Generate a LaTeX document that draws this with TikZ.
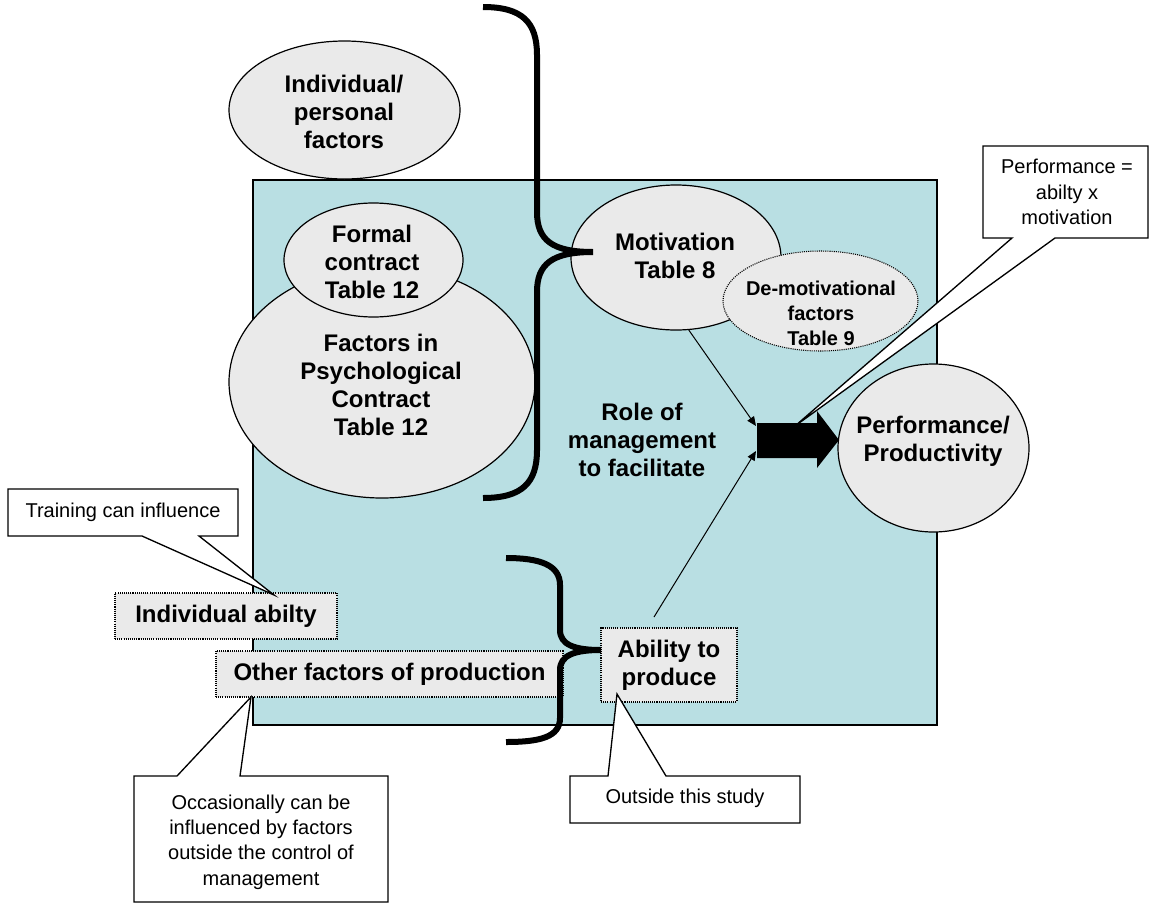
\documentclass[tikz,border=0pt]{standalone}
\usepackage{fontspec}
\setmainfont{Liberation Sans}
\usetikzlibrary{arrows.meta,shapes.geometric,calc}
\definecolor{bluebg}{RGB}{185,223,227}
\definecolor{ellgray}{RGB}{234,234,234}
\begin{document}
\begin{tikzpicture}[x=0.75pt,y=-0.75pt,
  ellbox/.style={ellipse, draw=black, line width=0.9pt, fill=ellgray, inner sep=0pt},
  dotell/.style={ellipse, draw=black, line width=0.8pt, dash pattern=on 0.8pt off 0.8pt, fill=ellgray, inner sep=0pt},
  btxt/.style={font=\bfseries\fontsize{18}{21}\selectfont, align=center, inner sep=0pt},
  stxt/.style={font=\bfseries\fontsize{15}{18.75}\selectfont, align=center, inner sep=0pt},
  ctxt/.style={font=\fontsize{15}{19}\selectfont, align=center, inner sep=0pt},
  dotbox/.style={draw=black, line width=0.8pt, dash pattern=on 0.8pt off 0.8pt, fill=ellgray, inner sep=0pt, font=\bfseries\fontsize{18}{21}\selectfont, align=center},
  calloutpath/.style={draw=black, line width=1pt, fill=white, line join=miter},
  bracepath/.style={line width=4.5pt},
  thinarrow/.style={line width=0.75pt, -{Triangle[length=7pt,width=6pt]}}
]
\useasboundingbox (0,0) rectangle (1149,903);

% background region
\draw[fill=bluebg, line width=1.1pt] (253,180) rectangle (937,725);

% ellipses
\node[ellbox, minimum width=231*0.75pt, minimum height=138*0.75pt] (indiv) at (344.5,110) {};
\node[btxt] (indivt) at (344,111.5) {Individual/\\personal\\factors};

\node[ellbox, minimum width=306*0.75pt, minimum height=232*0.75pt] (psych) at (382,382) {};
\node[btxt] (psycht) at (381,385) {Factors in\\Psychological\\Contract\\Table 12};

\node[ellbox, minimum width=179*0.75pt, minimum height=114*0.75pt] (formal) at (373.5,260) {};
\node[btxt] (formalt) at (372,262) {Formal\\contract\\Table 12};

\node[ellbox, minimum width=210*0.75pt, minimum height=145*0.75pt] (motiv) at (676,257.5) {};
\node[btxt] (motivt) at (675,256) {Motivation\\Table 8};

\node[dotell, minimum width=195*0.75pt, minimum height=100*0.75pt] (demot) at (820.5,301) {};
\node[stxt] (demott) at (821,313) {De-motivational\\factors\\Table 9};

\node[ellbox, minimum width=191*0.75pt, minimum height=168*0.75pt] (perf) at (933.5,448) {};
\node[btxt] (perft) at (933,441) {Performance/\\Productivity};

% big brace
\draw[bracepath] (483,7) .. controls (522,7) and (537,22) .. (537,55) -- (537,212)
  .. controls (537,240) and (552,252) .. (593,252)
  .. controls (552,252) and (537,264) .. (537,292) -- (537,450)
  .. controls (537,483) and (522,498) .. (483,498);

% role text
\node[btxt] (role) at (642,440) {Role of\\management\\to facilitate};

% boxes
\node[dotbox, minimum width=222*0.75pt, minimum height=46*0.75pt] (indab) at (226,616) {Individual abilty};
\node[dotbox, minimum width=347*0.75pt, minimum height=46*0.75pt] (other) at (389.5,674) {Other factors of production};
\node[dotbox, minimum width=136*0.75pt, minimum height=74*0.75pt] (ability) at (669,665) {Ability to\\produce};

% small brace
\draw[bracepath] (506,558) .. controls (540,558) and (560,565) .. (560,585) -- (560,630)
  .. controls (560,645) and (575,650) .. (601,650)
  .. controls (575,650) and (560,655) .. (560,670) -- (560,718)
  .. controls (560,737) and (540,742) .. (506,742);

% block arrow and thin arrows
\coordinate (in1) at (756,426);
\coordinate (in2) at (756,451);
\coordinate (abstart) at (654,617);
\draw[thinarrow] (motiv.-80) -- (in1);
\draw[thinarrow] (abstart) -- (in2);
\fill[black] (757,423) -- (817,423) -- (817,411) -- (839,440) -- (817,468) -- (817,458) -- (757,458) -- cycle;

% callouts
\coordinate (tipperf) at (795,426);
\draw[calloutpath] (983,146) -- (1148,146) -- (1148,238) -- (1055,238) -- (tipperf) -- (1012,238) -- (983,238) -- cycle;
\node[ctxt] (perfc) at (1067,192) {Performance =\\abilty x\\motivation};

\coordinate (tiptrain) at (274,595);
\draw[calloutpath] (8,489) -- (238,489) -- (238,536) -- (199,536) -- (tiptrain) -- (142,536) -- (8,536) -- cycle;
\node[ctxt] (trainc) at (123,512.5) {Training can influence};

\coordinate (tipocc) at (251,697);
\draw[calloutpath] (134,776) -- (177,776) -- (tipocc) -- (240,776) -- (388,776) -- (388,902) -- (134,902) -- cycle;
\node[ctxt] (occc) at (261,842) {Occasionally can be\\influenced by factors\\outside the control of\\management};

\coordinate (tipout) at (617,694);
\draw[calloutpath] (570,776) -- (608,776) -- (tipout) -- (666,776) -- (800,776) -- (800,823) -- (570,823) -- cycle;
\node[ctxt] (outc) at (685,798) {Outside this study};
\end{tikzpicture}
\end{document}
